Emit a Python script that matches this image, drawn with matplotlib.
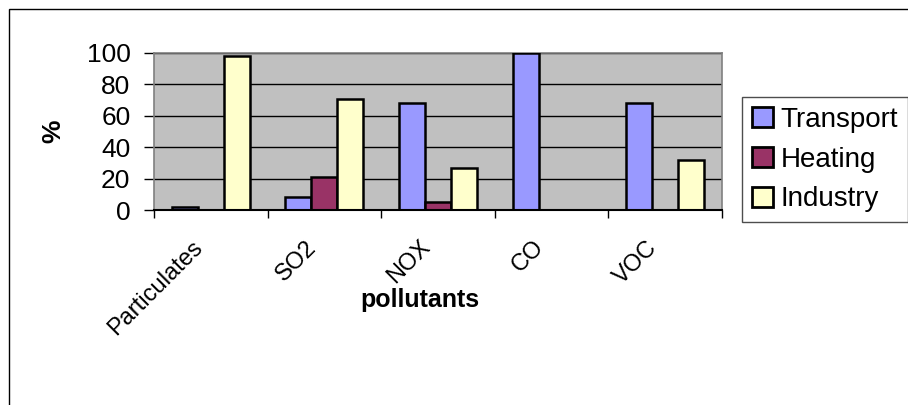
import matplotlib
matplotlib.use('Agg')
from matplotlib import pyplot as plt
from matplotlib.patches import Rectangle
from matplotlib.transforms import ScaledTranslation
import numpy as np

# emission share by source, per pollutant (%)
pollutants = ['Particulates', 'SO2', 'NOX', 'CO', 'VOC']
transport = [2, 8, 68, 100, 68]
heating = [0, 21, 5, 0, 0]
industry = [98, 71, 27, 0, 32]

sources = ['Transport', 'Heating', 'Industry']
colors = ['#9999FF', '#993366', '#FFFFCC']

plt.rcParams['font.family'] = ['Liberation Sans', 'DejaVu Sans']

fig = plt.figure(figsize=(9.08, 4.05), dpi=100)
ax = fig.add_axes([154 / 908, 1 - 210 / 405, 568 / 908, 157 / 405])
ax.set_facecolor('#C0C0C0')

x = np.arange(len(pollutants))
w = 0.229
for k, (vals, name) in enumerate(zip([transport, heating, industry], sources)):
    ax.bar(x + (k - 1) * w, vals, width=w, color=colors[k], edgecolor='black',
           linewidth=1.8, label=name, zorder=3)

ax.set_xlim(-0.5, len(pollutants) - 0.5)
ax.set_ylim(0, 100)
ax.set_yticks([0, 20, 40, 60, 80, 100])
ax.yaxis.grid(True, color='black', linewidth=1.0, zorder=1)
ax.tick_params(axis='y', labelsize=19, length=7, width=1, direction='out', pad=10)

# category boundaries get the tick marks, centres get the labels
ax.set_xticks(x)
ax.set_xticks(np.arange(-0.5, len(pollutants)), minor=True)
ax.set_xticklabels(pollutants, rotation=45, ha='right', va='top',
                   rotation_mode='anchor', fontsize=17)
ax.tick_params(axis='x', which='major', length=0, pad=19)
ax.tick_params(axis='x', which='minor', length=6, width=1, direction='out')
shift = ScaledTranslation(-0.19, 0, fig.dpi_scale_trans)
for lbl in ax.get_xticklabels():
    lbl.set_transform(lbl.get_transform() + shift)

for s in ['top', 'right', 'left']:
    ax.spines[s].set_color('#808080')
    ax.spines[s].set_linewidth(1.2)
ax.spines['bottom'].set_color('black')
ax.spines['bottom'].set_linewidth(1.5)
ax.spines['bottom'].set_zorder(4)

ax.set_ylabel('%', fontsize=19, fontweight='bold', labelpad=15)
ax.set_xlabel('pollutants', fontsize=18, fontweight='bold')
ax.xaxis.set_label_coords(0.468, -0.5)
ax.xaxis.label.set_va('top')

leg = fig.legend(loc='upper left', bbox_to_anchor=(742 / 908, 1 - 97 / 405),
                 fontsize=20, frameon=True, fancybox=False, edgecolor='#202020',
                 handlelength=0.78, handleheight=0.72, handletextpad=0.25,
                 labelspacing=0.5, borderpad=0.35, borderaxespad=0)
leg.get_frame().set_linewidth(1.0)
for h in leg.legend_handles:
    h.set_linewidth(2.0)

# outer chart border
fig.patches.append(Rectangle((9 / 908, -0.5), 2, 0.5 + 1 - 9 / 405,
                             transform=fig.transFigure, fill=False,
                             edgecolor='black', linewidth=1.0))

fig.savefig('out.png', dpi=100)
